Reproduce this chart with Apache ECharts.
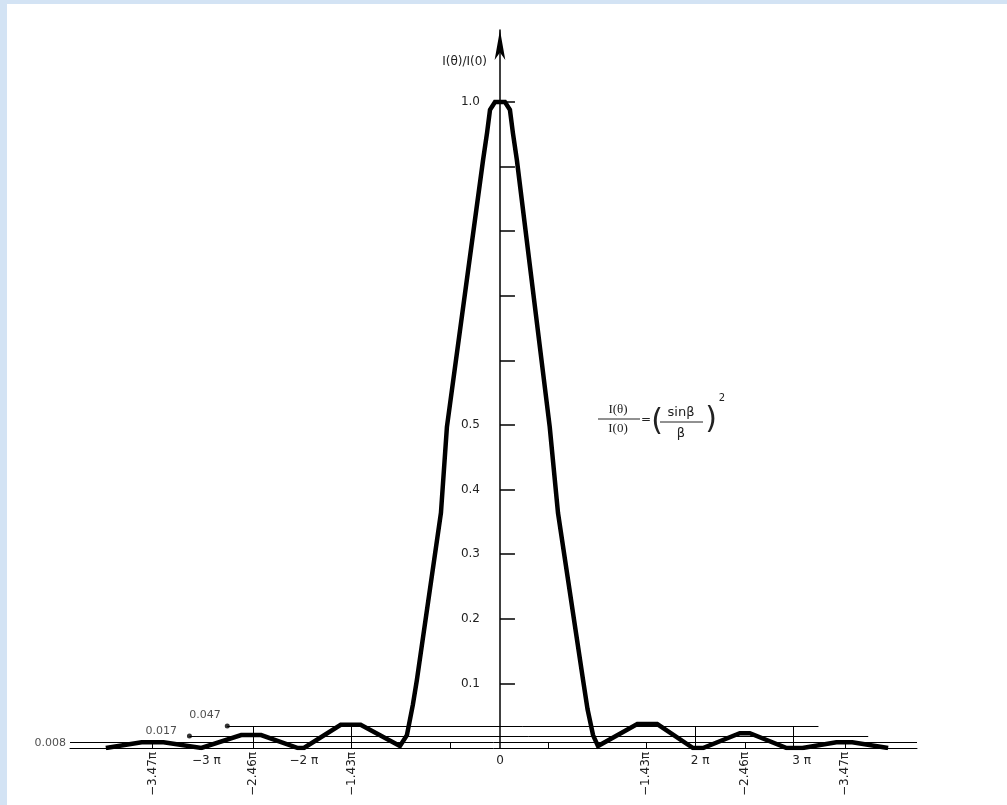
<!DOCTYPE html>
<html>
<head>
<meta charset="utf-8">
<script src="https://cdn.jsdelivr.net/npm/echarts@6/dist/echarts.min.js"></script>
<style>
html,body{margin:0;padding:0;width:1007px;height:805px;overflow:hidden;background:#d3e3f4;}
#chart{position:absolute;left:7px;top:4px;width:1000px;height:801px;background:#ffffff;}
</style>
</head>
<body>
<div id="chart"></div>
<script>
// x in units of pi (beta/pi), y = I(theta)/I(0) as drawn
const curveX = [-3.96,-3.60,-3.38,-3.00,-2.60,-2.40,-2.03,-1.97,-1.60,-1.40,-1.005,-0.935,-0.875,-0.835,-0.593,-0.533,-0.17,-0.13,-0.10,-0.05,0.05,0.10,0.13,0.17,0.50,0.583,0.835,0.88,0.935,0.985,1.38,1.58,1.94,2.04,2.41,2.51,2.88,3.04,3.38,3.54,3.90];
const curveY = [0,0.009,0.009,0,0.020,0.020,0,0,0.036,0.036,0.003,0.020,0.067,0.105,0.364,0.497,0.910,0.952,0.988,1.0,1.0,0.988,0.952,0.910,0.497,0.364,0.105,0.060,0.020,0.003,0.037,0.037,0,0,0.023,0.023,0,0,0.009,0.009,0];

// reference levels (as drawn) and their labels
const levelLabels = ['0.047','0.017','0.008'];
const levelValues = [0.034, 0.0186, 0.0093];
const levelStart = [-2.74, -3.12, -4.32];
const levelEnd = [3.20, 3.70, 4.19];
const levelDot = [true, true, false];

// tall vertical markers
const vertX = [-2.48, -1.49, 1.96, 2.95];

// rotated x labels
const rotPos = [-3.49, -2.48, -1.49, 1.47, 2.46, 3.47];
const rotLabels = ['\u22123.47\u03c0','\u22122.46\u03c0','\u22121.43\u03c0','\u22121.43\u03c0','\u22122.46\u03c0','\u22123.47\u03c0'];
// horizontal x labels
const horPos = [-2.95, -1.97, 0, 2.01, 3.03];
const horLabels = ['\u22123 \u03c0','\u22122 \u03c0','0','2 \u03c0','3 \u03c0'];
// small x ticks
const smallTicks = [-3.49, -0.503, 0.482, 1.47, 2.46, 3.47];

// y axis
const yTicks = [0.1,0.2,0.3,0.4,0.5,0.6,0.7,0.8,0.9,1.0];
const yLabels = [0.1,0.2,0.3,0.4,0.5,1.0];

const X_MIN = -4.32, X_MAX = 4.19, Y_MAX = 1.1115;
const FONT = 'DejaVu Sans';

function lookup(pos, labels, v) {
  let best = 0, bd = Infinity;
  pos.forEach((p, i) => { const d = Math.abs(p - v); if (d < bd) { bd = d; best = i; } });
  return labels[best];
}

const chart = echarts.init(document.getElementById('chart'), null, {renderer: 'canvas'});

const GRID = {left: 63, right: 90, top: 26, bottom: 57};
const plotW = 1000 - GRID.left - GRID.right;
const yAxisOffset = -plotW * (0 - X_MIN) / (X_MAX - X_MIN);

const lineData = [];
levelValues.forEach((v, i) => {
  lineData.push([{coord: [levelStart[i], v]}, {coord: [levelEnd[i], v]}]);
});
vertX.forEach(x => {
  lineData.push([{coord: [x, 0]}, {coord: [x, levelValues[0]]}]);
});

const labelOffsets = [[0, -11], [-6, -5], [0, 1]];
const dotData = levelValues.map((v, i) => ({
  value: [levelStart[i], v],
  symbolSize: levelDot[i] ? 5 : 0,
  label: {show: true, formatter: levelLabels[i], position: 'left', distance: 4, offset: labelOffsets[i]}
}));

chart.setOption({
  animation: false,
  grid: GRID,
  xAxis: [{
    type: 'value', min: X_MIN, max: X_MAX,
    axisLine: {show: true, onZero: false, lineStyle: {color: '#000', width: 1}},
    axisTick: {show: true, inside: true, length: 6, customValues: smallTicks, lineStyle: {color: '#000', width: 1}},
    axisLabel: {show: true, customValues: rotPos, rotate: 90, margin: 4,
      fontFamily: FONT, fontSize: 12, color: '#222',
      formatter: v => lookup(rotPos, rotLabels, v)},
    splitLine: {show: false}
  }, {
    type: 'value', min: X_MIN, max: X_MAX, position: 'bottom',
    axisLine: {show: false, onZero: false},
    axisTick: {show: false},
    axisLabel: {show: true, customValues: horPos, margin: 7,
      fontFamily: FONT, fontSize: 12, color: '#222',
      formatter: v => lookup(horPos, horLabels, v)},
    splitLine: {show: false}
  }],
  yAxis: {
    type: 'value', min: 0, max: Y_MAX, position: 'left', offset: yAxisOffset,
    axisLine: {show: true, onZero: false, symbol: ['none', 'arrow'], symbolSize: [8, 30],
      lineStyle: {color: '#000', width: 1.5}},
    axisTick: {show: true, inside: true, length: 15, customValues: yTicks, lineStyle: {color: '#000', width: 1.5}},
    axisLabel: {show: true, customValues: yLabels, margin: 20, fontFamily: FONT, fontSize: 12, color: '#222',
      formatter: v => v.toFixed(1)},
    splitLine: {show: false}
  },
  series: [{
    type: 'line', xAxisIndex: 0, data: [], silent: true, z: 1,
    markLine: {silent: true, symbol: 'none', animation: false,
      lineStyle: {color: '#000', width: 1, type: 'solid'}, label: {show: false},
      data: lineData}
  }, {
    type: 'scatter', xAxisIndex: 0, data: dotData, z: 3, silent: true,
    itemStyle: {color: '#000'},
    label: {fontFamily: FONT, fontSize: 11, color: '#222'}
  }, {
    type: 'line', xAxisIndex: 0, z: 5, silent: true,
    data: curveX.map((x, i) => [x, curveY[i]]),
    symbol: 'none', smooth: false,
    lineStyle: {color: '#000', width: 4.5, join: 'miter'}
  }],
  graphic: [
    {type: 'text', x: 480, y: 58, style: {text: 'I(\u03b8)/I(0)', font: '12px "DejaVu Sans"', fill: '#222', textAlign: 'right', textVerticalAlign: 'middle'}},
    {type: 'text', x: 611, y: 406, style: {text: 'I(\u03b8)', font: '13px "Liberation Serif"', fill: '#222', textAlign: 'center', textVerticalAlign: 'middle'}},
    {type: 'line', shape: {x1: 591, y1: 415, x2: 633, y2: 415}, style: {stroke: '#222', lineWidth: 1}},
    {type: 'text', x: 611, y: 425, style: {text: 'I(0)', font: '13px "Liberation Serif"', fill: '#222', textAlign: 'center', textVerticalAlign: 'middle'}},
    {type: 'text', x: 639, y: 416, style: {text: '=', font: '12px "DejaVu Sans"', fill: '#222', textAlign: 'center', textVerticalAlign: 'middle'}},
    {type: 'text', x: 650, y: 418, style: {text: '(', font: '30px "DejaVu Sans"', fill: '#222', textAlign: 'center', textVerticalAlign: 'middle'}},
    {type: 'text', x: 674, y: 409, style: {text: 'sin\u03b2', font: '13px "DejaVu Sans"', fill: '#222', textAlign: 'center', textVerticalAlign: 'middle'}},
    {type: 'line', shape: {x1: 653, y1: 418, x2: 696, y2: 418}, style: {stroke: '#222', lineWidth: 1}},
    {type: 'text', x: 674, y: 430, style: {text: '\u03b2', font: '13px "DejaVu Sans"', fill: '#222', textAlign: 'center', textVerticalAlign: 'middle'}},
    {type: 'text', x: 704, y: 416, style: {text: ')', font: '30px "DejaVu Sans"', fill: '#222', textAlign: 'center', textVerticalAlign: 'middle'}},
    {type: 'text', x: 715, y: 394, style: {text: '2', font: '10px "DejaVu Sans"', fill: '#222', textAlign: 'center', textVerticalAlign: 'middle'}}
  ]
});
</script>
</body>
</html>
